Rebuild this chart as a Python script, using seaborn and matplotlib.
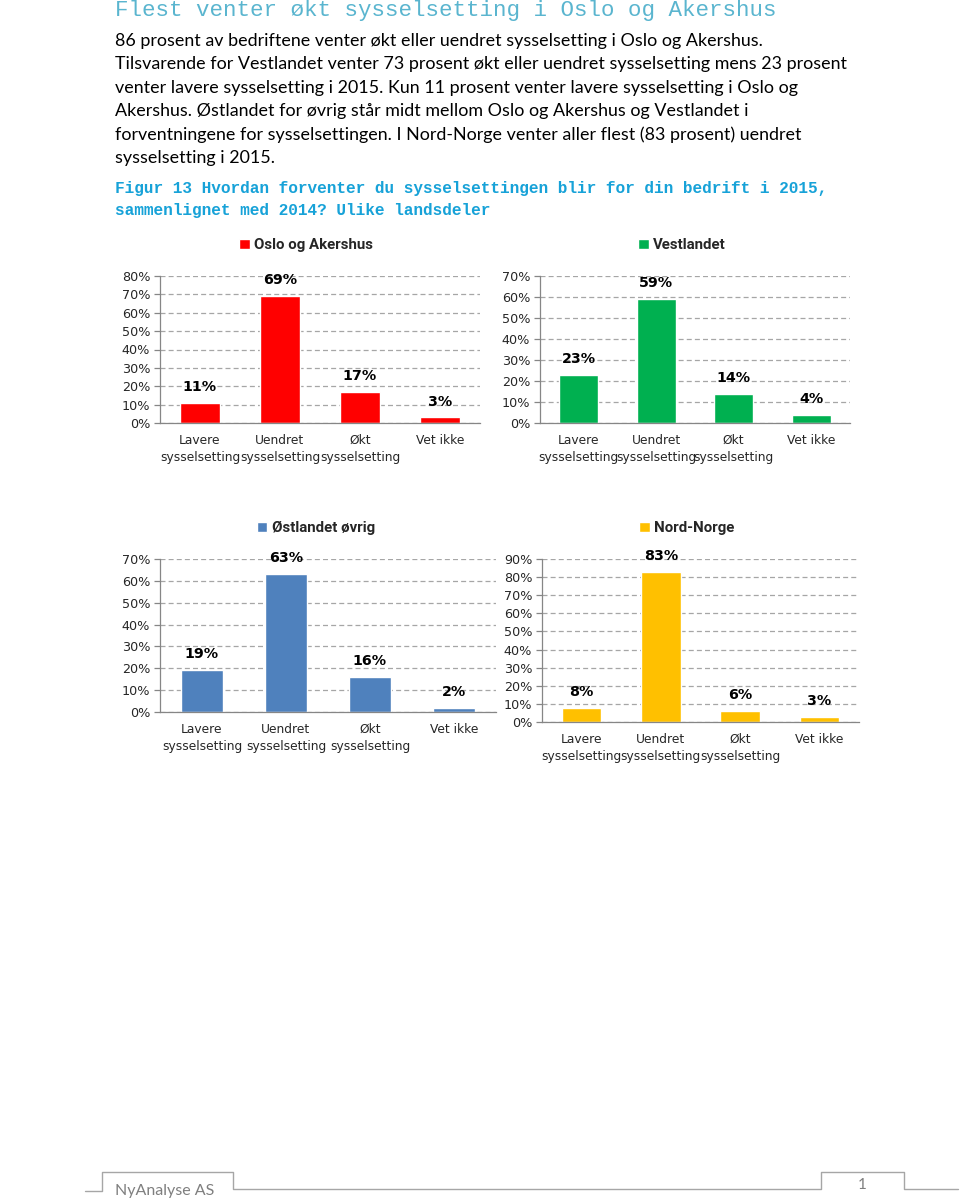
import matplotlib
matplotlib.use("Agg")
import matplotlib.pyplot as plt
import seaborn as sns
import pandas as pd
from matplotlib.ticker import PercentFormatter, MultipleLocator, FixedLocator
from matplotlib.lines import Line2D

# data
categories = ["Lavere\nsysselsetting", "Uendret\nsysselsetting", "Økt\nsysselsetting", "Vet ikke"]
regions = ["Oslo og Akershus", "Vestlandet", "Østlandet øvrig", "Nord-Norge"]
oslo = [0.11, 0.69, 0.17, 0.03]
vestlandet = [0.23, 0.59, 0.14, 0.04]
ostlandet = [0.19, 0.63, 0.16, 0.02]
nord_norge = [0.08, 0.83, 0.06, 0.03]
colors = ["#ff0000", "#00b050", "#4f81bd", "#ffc000"]
y_max = [0.8, 0.7, 0.7, 0.9]

title = "Flest venter økt sysselsetting i Oslo og Akershus"
body = [
    "86 prosent av bedriftene venter økt eller uendret sysselsetting i Oslo og Akershus.",
    "Tilsvarende for Vestlandet venter 73 prosent økt eller uendret sysselsetting mens 23 prosent",
    "venter lavere sysselsetting i 2015. Kun 11 prosent venter lavere sysselsetting i Oslo og",
    "Akershus. Østlandet for øvrig står midt mellom Oslo og Akershus og Vestlandet i",
    "forventningene for sysselsettingen. I Nord-Norge venter aller flest (83 prosent) uendret",
    "sysselsetting i 2015.",
]
caption = [
    "Figur 13 Hvordan forventer du sysselsettingen blir for din bedrift i 2015,",
    "sammenlignet med 2014? Ulike landsdeler",
]
footer_left = "NyAnalyse AS"
footer_right = "1"

sns.set_theme(style="white")
plt.rcParams["font.family"] = ["DejaVu Sans"]

W, H = 960, 1199
fig = plt.figure(figsize=(W / 100, H / 100), dpi=100)


def fx(x):
    return x / W


def fy(y):
    return 1 - y / H


# page text
fig.text(fx(115), fy(16), title, family="Liberation Mono", fontsize=16.2,
         color="#5ab5cf", va="baseline")
for i, line in enumerate(body):
    fig.text(fx(115), fy(46 + i * 23.4), line, family="Lato", fontsize=12.85,
             color="#000000", va="baseline")
for i, line in enumerate(caption):
    fig.text(fx(115), fy(193 + i * 21.5), line, family="Liberation Mono",
             fontsize=11.65, weight="bold", color="#17a2d8", va="baseline")

# panels: left, right, top, bottom in px; legend centre
panel_px = [(160, 480, 276, 423), (540, 850, 276, 423),
            (160, 496, 559, 712), (542, 859, 559, 722)]
legend_px = [(306, 245), (682, 245), (316, 528), (687, 528)]
series = [oslo, vestlandet, ostlandet, nord_norge]

for values, region, color, ymax, (l, r, t, b), (lx, ly) in zip(
        series, regions, colors, y_max, panel_px, legend_px):
    ax = fig.add_axes([fx(l), fy(b), (r - l) / W, (b - t) / H])
    df = pd.DataFrame({"kategori": categories, "andel": values,
                       "region": [region] * len(categories)})
    sns.barplot(data=df, x="kategori", y="andel", hue="region",
                palette=[color], width=0.5, ax=ax, saturation=1)
    ax.set_xlim(-0.5, len(categories) - 0.5)
    ax.set_ylim(0, ymax)
    ax.yaxis.set_major_locator(MultipleLocator(0.1))
    ax.yaxis.set_major_formatter(PercentFormatter(1.0, decimals=0))
    ax.set_axisbelow(True)
    ax.yaxis.grid(True, linestyle=(0, (4, 2.5)), color="#a6a6a6", lw=0.9)
    ax.xaxis.grid(False)
    ax.set_xlabel("")
    ax.set_ylabel("")
    for side in ["top", "right"]:
        ax.spines[side].set_visible(False)
    for side in ["left", "bottom"]:
        ax.spines[side].set_color("#868686")
        ax.spines[side].set_linewidth(0.9)
    ax.xaxis.set_minor_locator(FixedLocator([k + 0.5 for k in range(-1, len(categories))]))
    ax.tick_params(axis="x", which="major", length=0, pad=8, labelsize=8.8, labelcolor="#262626")
    ax.tick_params(axis="x", which="minor", length=4, color="#868686", width=0.9, direction="out")
    ax.tick_params(axis="y", length=4, color="#868686", width=0.9, direction="out",
                   left=True, labelsize=9.2, labelcolor="#262626", pad=3)
    for lab in ax.get_xticklabels():
        lab.set_linespacing(1.35)
    for k, v in enumerate(values):
        ax.annotate(f"{round(v * 100)}%", (k, v), xytext=(0, 11.5),
                    textcoords="offset points", ha="center", va="center",
                    fontsize=10.3, weight="bold", color="#000000",
                    annotation_clip=False)
    handles, labels = ax.get_legend_handles_labels()
    ax.legend(handles, labels, loc="center", bbox_to_anchor=(fx(lx), fy(ly)),
              bbox_transform=fig.transFigure, frameon=False, handlelength=0.7,
              handleheight=0.7, handletextpad=0.3, borderpad=0,
              prop={"family": "Roboto", "weight": "bold", "size": 10.8})

# footer
gray = "#a6a6a6"
fig.add_artist(Line2D([fx(85), fx(102), fx(102), fx(233), fx(233), fx(821), fx(821),
                       fx(904), fx(904), fx(958)],
                      [fy(1191), fy(1191), fy(1172), fy(1172), fy(1189), fy(1189),
                       fy(1172), fy(1172), fy(1189), fy(1189)],
                      transform=fig.transFigure, color=gray, lw=1))
fig.text(fx(115), fy(1195), footer_left, family="Lato", fontsize=11.5,
         color="#7f7f7f", va="baseline")
fig.text(fx(862), fy(1189), footer_right, family="Lato", fontsize=11,
         color="#7f7f7f", va="baseline", ha="center")

fig.savefig("out.png", dpi=100)
